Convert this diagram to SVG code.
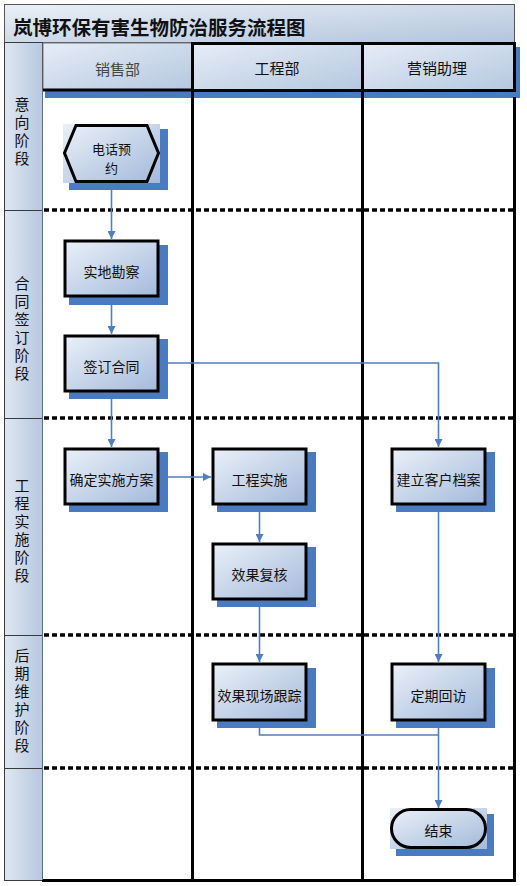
<svg xmlns="http://www.w3.org/2000/svg" width="527" height="886" viewBox="0 0 527 886">
<defs>
<linearGradient id="gNode" x1="0" y1="0" x2="1" y2="1">
<stop offset="0" stop-color="#eaf0f8"/><stop offset="1" stop-color="#a4badb"/>
</linearGradient>
<linearGradient id="gHead" x1="0" y1="0" x2="1" y2="1">
<stop offset="0" stop-color="#e6edf6"/><stop offset="1" stop-color="#b5c7e0"/>
</linearGradient>
<linearGradient id="gTitle" x1="0" y1="0" x2="1" y2="1">
<stop offset="0" stop-color="#eaf0f7"/><stop offset="1" stop-color="#b3c4dd"/>
</linearGradient>
<linearGradient id="gStage" x1="0" y1="0" x2="1" y2="0">
<stop offset="0" stop-color="#dfe7f2"/><stop offset="1" stop-color="#b6c7df"/>
</linearGradient>
<marker id="arr" viewBox="0 0 10 10" refX="10" refY="5" markerUnits="userSpaceOnUse" markerWidth="8" markerHeight="8" orient="auto">
<path d="M0,0 L10,5 L0,10 z" fill="#4f7fbf"/>
</marker>
<style>
text{font-family:"Noto Sans CJK SC","Noto Sans",sans-serif;fill:#111}
.nt{font-size:14px;text-anchor:middle;dominant-baseline:central}
.ht{font-size:15px;text-anchor:middle;dominant-baseline:central}
.st{font-size:15px;text-anchor:middle;writing-mode:vertical-rl;text-orientation:upright;letter-spacing:3px}
.box{fill:url(#gNode);stroke:#000;stroke-width:3}
.sh{fill:#4a7bc0}
.bg{fill:url(#gNode)}
.stage{fill:url(#gStage);stroke:#3a3a3a;stroke-width:1}
.dash{stroke:#000;stroke-width:3.5;stroke-dasharray:5 3;fill:none}
.lane{stroke:#000;stroke-width:3;fill:none}
.con{stroke:#4f7fbf;stroke-width:1.6;fill:none}
</style>
</defs>
<rect x="0" y="0" width="527" height="886" fill="#fff"/>

<g id="title">
<rect x="4.5" y="4.5" width="510" height="38" fill="url(#gTitle)" stroke="#555" stroke-width="1"/>
<text x="13" y="26" style="font-size:19.5px;font-weight:bold;dominant-baseline:central">岚博环保有害生物防治服务流程图</text>
</g>

<g id="stages">
<rect class="stage" x="4.5" y="42.5" width="38" height="168"/>
<rect class="stage" x="4.5" y="210.5" width="38" height="208"/>
<rect class="stage" x="4.5" y="418.5" width="38" height="217"/>
<rect class="stage" x="4.5" y="635.5" width="38" height="133"/>
<rect class="stage" x="4.5" y="768.5" width="38" height="112"/>
<text class="st" x="22" y="132.5">意向阶段</text>
<text class="st" x="22" y="330">合同签订阶段</text>
<text class="st" x="22" y="531.5">工程实施阶段</text>
<text class="st" x="22" y="701.5">后期维护阶段</text>
</g>

<g id="headers">
<rect x="45" y="47" width="475" height="51" fill="#4a7bc0"/>
<rect x="43" y="43" width="149" height="47" fill="url(#gHead)" stroke="#777" stroke-width="1"/>
<text class="ht" x="117.5" y="68" style="fill:#444">销售部</text>
<rect x="192.5" y="43.5" width="170" height="47" fill="url(#gHead)" stroke="#000" stroke-width="3"/>
<text class="ht" x="277" y="67.5">工程部</text>
<rect x="362.5" y="43.5" width="152" height="47" fill="url(#gHead)" stroke="#000" stroke-width="3"/>
<text class="ht" x="437" y="67.5">营销助理</text>
<line x1="43" y1="90" x2="193" y2="90" stroke="#000" stroke-width="3"/>
</g>

<g id="lanes">
<rect x="43" y="98" width="471" height="782" fill="#fff"/>
<line class="lane" x1="192.5" y1="90" x2="192.5" y2="881"/>
<line class="lane" x1="362.5" y1="90" x2="362.5" y2="881"/>
<line class="lane" x1="514.5" y1="97" x2="514.5" y2="881"/>
<line class="lane" x1="42" y1="880.5" x2="516" y2="880.5"/>
<line x1="42.5" y1="90" x2="42.5" y2="880" stroke="#5a6f8f" stroke-width="1"/>
<line class="dash" x1="44" y1="210" x2="514" y2="210"/>
<line class="dash" x1="44" y1="418" x2="514" y2="418"/>
<line class="dash" x1="44" y1="635" x2="514" y2="635"/>
<line class="dash" x1="44" y1="768" x2="514" y2="768"/>
</g>

<g id="connectors">
<line class="con" x1="111.5" y1="182" x2="111.5" y2="239" marker-end="url(#arr)"/>
<line class="con" x1="111.5" y1="297" x2="111.5" y2="334" marker-end="url(#arr)"/>
<line class="con" x1="111.5" y1="392" x2="111.5" y2="447" marker-end="url(#arr)"/>
<polyline class="con" points="159,363 438.5,363 438.5,447" marker-end="url(#arr)"/>
<line class="con" x1="159" y1="477" x2="211" y2="477" marker-end="url(#arr)"/>
<line class="con" x1="259.5" y1="505" x2="259.5" y2="542" marker-end="url(#arr)"/>
<line class="con" x1="259.5" y1="600" x2="259.5" y2="662" marker-end="url(#arr)"/>
<line class="con" x1="438.5" y1="505" x2="438.5" y2="662" marker-end="url(#arr)"/>
<line class="con" x1="438.5" y1="721" x2="438.5" y2="808" marker-end="url(#arr)"/>
<polyline class="con" points="259.5,721 259.5,735 438.5,735"/>
</g>

<g id="n_phone">
<rect class="sh" x="69" y="129" width="99" height="61"/>
<rect class="bg" x="63" y="124" width="97" height="59"/>
<polygon class="box" points="64.5,153 76,125.5 147,125.5 158.5,153 147,181.5 76,181.5"/>
<text class="nt" x="111.5" y="148.5" style="font-size:13px">电话预</text>
<text class="nt" x="111.5" y="167.5" style="font-size:13px">约</text>
</g>

<g id="n_survey">
<rect class="sh" x="69" y="245" width="99" height="60"/>
<rect class="box" x="65" y="241" width="93" height="55"/>
<text class="nt" x="111.5" y="271">实地勘察</text>
</g>

<g id="n_contract">
<rect class="sh" x="69" y="339" width="99" height="60"/>
<rect class="box" x="65" y="336" width="93" height="55"/>
<text class="nt" x="111.5" y="366">签订合同</text>
</g>

<g id="n_plan">
<rect class="sh" x="69" y="452" width="99" height="60"/>
<rect class="box" x="65" y="449" width="93" height="55"/>
<text class="nt" x="111.5" y="479">确定实施方案</text>
</g>

<g id="n_impl">
<rect class="sh" x="217" y="452" width="99" height="60"/>
<rect class="box" x="213" y="449" width="93" height="55"/>
<text class="nt" x="259.5" y="479">工程实施</text>
</g>

<g id="n_review">
<rect class="sh" x="217" y="547" width="99" height="60"/>
<rect class="box" x="213" y="544" width="93" height="55"/>
<text class="nt" x="259.5" y="574">效果复核</text>
</g>

<g id="n_archive">
<rect class="sh" x="396" y="452" width="99" height="60"/>
<rect class="box" x="392" y="449" width="93" height="55"/>
<text class="nt" x="438.5" y="479">建立客户档案</text>
</g>

<g id="n_track">
<rect class="sh" x="217" y="668" width="99" height="60"/>
<rect class="box" x="213" y="664" width="93" height="56"/>
<text class="nt" x="259.5" y="695">效果现场跟踪</text>
</g>

<g id="n_visit">
<rect class="sh" x="396" y="668" width="99" height="60"/>
<rect class="box" x="392" y="664" width="93" height="56"/>
<text class="nt" x="438.5" y="695">定期回访</text>
</g>

<g id="n_end">
<rect class="sh" x="396" y="814" width="98" height="42"/>
<rect class="bg" x="390" y="808" width="97" height="41"/>
<rect class="box" x="391.5" y="809.5" width="94" height="38" rx="19" ry="19"/>
<text class="nt" x="438.5" y="830">结束</text>
</g>
</svg>
